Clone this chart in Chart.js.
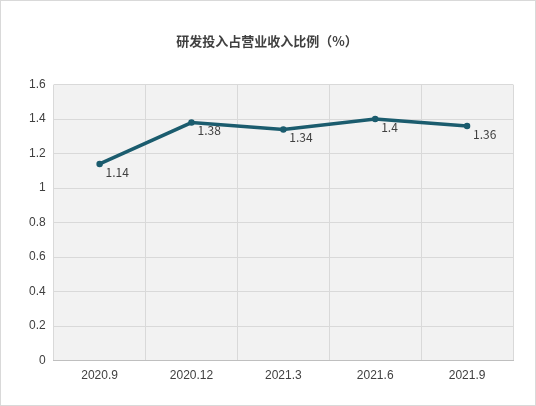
<!DOCTYPE html><html><head><meta charset="utf-8">
<script src="https://cdn.jsdelivr.net/npm/chart.js@4"></script>
<style>html,body{margin:0;background:#fff}#w{width:534px;height:404px;border:1px solid #d9d9d9;position:relative}</style></head>
<body><div id="w"><canvas id="c"></canvas></div><script>
const categories=['2020.9','2020.12','2021.3','2021.6','2021.9'];
const values=[1.14,1.38,1.34,1.4,1.36];
const title='研发投入占营业收入比例（%）';
const bg={id:'bg',beforeDraw(ch){const a=ch.chartArea,x=ch.ctx;x.save();x.fillStyle='#f2f2f2';x.fillRect(a.left,a.top,a.right-a.left,a.bottom-a.top);x.restore();}};
const lbl={id:'lbl',afterDatasetsDraw(ch){const x=ch.ctx;x.save();x.font='12px "Microsoft YaHei","Noto Sans CJK SC",sans-serif';x.fillStyle='#404040';x.textBaseline='middle';
ch.getDatasetMeta(0).data.forEach((p,i)=>{x.fillText(String(values[i]),p.x+6,p.y+8);});x.restore();}};
new Chart(document.getElementById('c'),{type:'line',data:{labels:categories,datasets:[{data:values,borderColor:'#1b5c6e',borderWidth:3.5,pointRadius:1.5,pointBackgroundColor:'#1b5c6e',pointBorderColor:'#1b5c6e',tension:0}]},
options:{responsive:true,maintainAspectRatio:false,animation:false,layout:{padding:{left:20,right:22,top:8,bottom:14}},
plugins:{legend:{display:false},tooltip:{enabled:false},title:{display:true,text:title,color:'#404040',font:{size:13,weight:'bold',family:'"Noto Sans CJK SC",sans-serif'},padding:{top:24,bottom:36}}},
scales:{x:{offset:true,grid:{offset:true,color:'#d9d9d9',drawTicks:false},border:{color:'#bfbfbf'},ticks:{color:'#404040',padding:8,font:{size:12}}},
y:{min:0,max:1.6,ticks:{stepSize:0.2,color:'#404040',padding:8,font:{size:12},callback:v=>Math.round(v*10)/10},grid:{color:'#d9d9d9',drawTicks:false},border:{display:false}}}},
plugins:[bg,lbl]});
</script></body></html>
